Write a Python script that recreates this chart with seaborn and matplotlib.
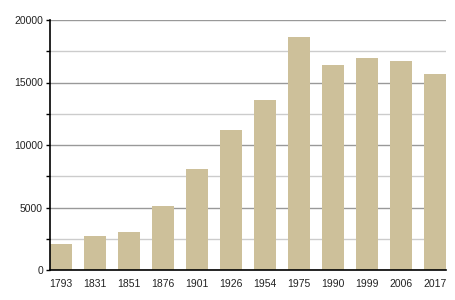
import matplotlib
matplotlib.use("Agg")
import matplotlib.pyplot as plt
import seaborn as sns
import pandas as pd
from matplotlib.ticker import MultipleLocator

years = ["1793", "1831", "1851", "1876", "1901", "1926", "1954", "1975", "1990", "1999", "2006", "2017"]
population = [2080, 2720, 3040, 5120, 8080, 11200, 13600, 18640, 16400, 16960, 16720, 15680]

df = pd.DataFrame({"year": years, "pop": population})

sns.set_style("white")
plt.rcParams["font.family"] = ["Liberation Sans", "DejaVu Sans"]

fig = plt.figure(figsize=(4.55, 3.0), dpi=100)
ax = fig.add_axes([50/455, 0.1, (446-50)/455, (270-20)/300])

sns.barplot(data=df, x="year", y="pop", color="#cdc09a", width=0.65, saturation=1,
            linewidth=0, edgecolor="none", ax=ax, zorder=2)

ax.set_xlim(-0.325, 11.325)
ax.set_ylim(0, 20000)
ax.yaxis.set_major_locator(MultipleLocator(5000))
ax.yaxis.set_minor_locator(MultipleLocator(2500))
ax.set_axisbelow(True)
ax.grid(axis="y", which="major", color="#999999", linewidth=1)
ax.grid(axis="y", which="minor", color="#cccccc", linewidth=1)
ax.set_xlabel("")
ax.set_ylabel("")

for s in ["top", "right"]:
    ax.spines[s].set_visible(False)
for s in ["left", "bottom"]:
    ax.spines[s].set_visible(True)
    ax.spines[s].set_color("black")
    ax.spines[s].set_linewidth(1.2)
    ax.spines[s].set_zorder(5)

ax.tick_params(axis="y", which="major", left=True, length=3, width=1, color="black", labelsize=7.5, pad=2, labelcolor="#222222")
ax.tick_params(axis="y", which="minor", left=True, length=3, width=1, color="black")
ax.tick_params(axis="x", bottom=False, labelsize=7.5, pad=3, labelcolor="#222222")

fig.savefig("out.png", dpi=100)
